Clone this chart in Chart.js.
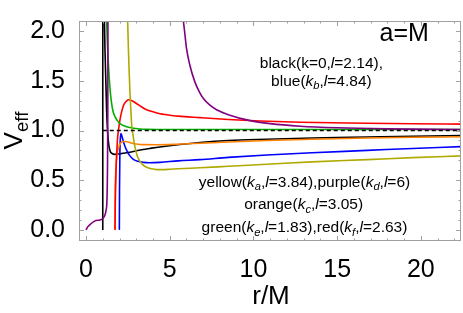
<!DOCTYPE html>
<html>
<head>
<meta charset="utf-8">
<script src="https://cdn.jsdelivr.net/npm/chart.js@4"></script>
<style>
    html, body { margin: 0; padding: 0; background: #fff; }
    #wrap { width: 463px; height: 313px; }
</style>
</head>
<body>
<div id="wrap"><canvas id="veffChart" width="463" height="313"></canvas></div>
<script>
// ============================================
// DATA
// ============================================
const xTicks = [0, 5, 10, 15, 20];
const yTicks = [0, 0.5, 1.0, 1.5, 2.0];

// black (k=0, l=2.14)
const blackR = [1.0, 1.0, 1.04, 1.08, 1.13, 1.23, 1.33, 1.43, 1.55, 1.73, 2.0, 2.43, 3.0, 3.42, 3.8, 4.4, 5.6, 6.8, 8.5, 10.8, 13.5, 16.8, 19.5, 22.4];
const blackV = [0, 2.5, null, 2.3, 1.83, 1.2, 0.9, 0.80, 0.77, 0.76, 0.765, 0.776, 0.795, 0.81, 0.82, 0.835, 0.86, 0.88, 0.90, 0.913, 0.925, 0.935, 0.943, 0.95];

// blue (k_b, l=4.84)
const blueR = [1.99, 2.0, 2.02, 2.05, 2.09, 2.15, 2.23, 2.33, 2.43, 2.6, 2.83, 3.1, 3.42, 3.8, 4.42, 5.5, 6.8, 8.5, 10.8, 13.5, 16.8, 19.5, 22.4];
const blueV = [0, 0.4, 0.75, 0.92, 0.97, 0.94, 0.89, 0.84, 0.80, 0.75, 0.71, 0.69, 0.68, 0.676, 0.68, 0.695, 0.707, 0.73, 0.754, 0.777, 0.80, 0.82, 0.838];

// yellow (k_a, l=3.84)
const yellowR = [2.47, 2.53, 2.58, 2.63, 2.68, 2.73, 2.83, 2.93, 3.05, 3.22, 3.4, 3.62, 3.9, 4.22, 4.6, 5.0, 5.5, 6.8, 8.5, 10.8, 13.5, 16.8, 19.5, 22.4];
const yellowV = [2.2, 1.83, 1.58, 1.36, 1.2, 1.05, 0.93, 0.83, 0.75, 0.69, 0.655, 0.63, 0.615, 0.607, 0.607, 0.61, 0.615, 0.625, 0.64, 0.66, 0.685, 0.707, 0.727, 0.745];

// purple (k_d, l=6)
const purpleR = [0, 0.1, 0.25, 0.44, 0.6, 0.84, 1.0, 1.13, 1.2, 1.25, 1.28, 1.3, 1.31, 3.0, 5.75, 5.9, 6.0, 6.2, 6.5, 6.8, 7.0, 7.4, 7.8, 8.5, 9.8, 11, 12.8, 15, 18, 22.4];
const purpleV = [0, 0.03, 0.055, 0.08, 0.095, 0.10, 0.115, 0.15, 0.2, 0.3, 0.6, 1.2, 2.3, null, 2.2, 1.98, 1.83, 1.66, 1.49, 1.38, 1.325, 1.255, 1.21, 1.16, 1.10, 1.07, 1.044, 1.028, 1.017, 1.01];

// orange (k_c, l=3.05)
const orangeR = [1.73, 1.74, 1.78, 1.87, 1.95, 2.05, 2.2, 2.35, 2.6, 3.0, 3.4, 4.2, 5.4, 6.8, 8.5, 10.8, 13.5, 16.8, 19.5, 22.4];
const orangeV = [0, 0.3, 0.6, 0.77, 0.83, 0.87, 0.89, 0.89, 0.88, 0.865, 0.858, 0.857, 0.862, 0.872, 0.885, 0.90, 0.913, 0.925, 0.932, 0.937];

// green (k_e, l=1.83)
const greenR = [1.22, 1.25, 1.29, 1.34, 1.39, 1.45, 1.53, 1.62, 1.73, 1.87, 2.03, 2.3, 2.63, 3.1, 3.62, 5, 8, 12, 16, 22.4];
const greenV = [2.2, 2.0, 1.83, 1.66, 1.52, 1.39, 1.27, 1.19, 1.14, 1.10, 1.07, 1.045, 1.03, 1.018, 1.012, 1.01, 1.01, 1.01, 1.01, 1.01];

// red (k_f, l=2.63)
const redR = [1.73, 1.75, 1.79, 1.87, 1.95, 2.03, 2.13, 2.23, 2.38, 2.53, 2.75, 3.03, 3.3, 3.62, 4.0, 4.42, 4.8, 5.5, 6.8, 8.5, 10.4, 12.8, 16.8, 19.5, 22.4];
const redV = [0, 0.3, 0.58, 0.89, 1.02, 1.11, 1.19, 1.25, 1.29, 1.31, 1.30, 1.27, 1.24, 1.21, 1.19, 1.17, 1.16, 1.145, 1.13, 1.112, 1.096, 1.083, 1.074, 1.069, 1.065];

// dashed asymptote V = 1
const dashR = [1.0, 22.4];
const dashV = [1, 1];

// ============================================
// HELPERS
// ============================================
const FONT = '"Liberation Sans", Arial, sans-serif';

function toPoints(r, v) {
    return r.map((x, i) => ({ x: x, y: v[i] }));
}

function curve(r, v, color, extra = {}) {
    return Object.assign({
        data: toPoints(r, v),
        borderColor: color,
        borderWidth: 1.6,
        pointRadius: 0,
        fill: false,
        cubicInterpolationMode: 'monotone',
        spanGaps: false
    }, extra);
}

// draws a line of text made of pieces: plain, italic, subscript
function richText(ctx, parts, cx, baseline, size) {
    const pieceFont = p => (p.i ? 'italic ' : '') + (p.sub ? size * 0.72 : size) + 'px ' + FONT;
    let total = 0;
    parts.forEach(p => {
        ctx.font = pieceFont(p);
        total += ctx.measureText(p.t).width;
    });
    let x = cx - total / 2;
    parts.forEach(p => {
        ctx.font = pieceFont(p);
        ctx.fillText(p.t, x, baseline + (p.sub ? size * 0.22 : 0));
        x += ctx.measureText(p.t).width;
    });
}

const notes = [
    { x: 14.06, y: 1.626, size: 15.5, parts: [{ t: 'black(k=0,' }, { t: 'l', i: true }, { t: '=2.14),' }] },
    { x: 14.06, y: 1.449, size: 15.5, parts: [{ t: 'blue(' }, { t: 'k', i: true }, { t: 'b', i: true, sub: true }, { t: ',' }, { t: 'l', i: true }, { t: '=4.84)' }] },
    { x: 13.05, y: 0.433, size: 15.5, parts: [{ t: 'yellow(' }, { t: 'k', i: true }, { t: 'a', i: true, sub: true }, { t: ',' }, { t: 'l', i: true }, { t: '=3.84),purple(' }, { t: 'k', i: true }, { t: 'd', i: true, sub: true }, { t: ',' }, { t: 'l', i: true }, { t: '=6)' }] },
    { x: 13.0, y: 0.208, size: 15.5, parts: [{ t: 'orange(' }, { t: 'k', i: true }, { t: 'c', i: true, sub: true }, { t: ',' }, { t: 'l', i: true }, { t: '=3.05)' }] },
    { x: 13.05, y: -0.025, size: 15.5, parts: [{ t: 'green(' }, { t: 'k', i: true }, { t: 'e', i: true, sub: true }, { t: ',' }, { t: 'l', i: true }, { t: '=1.83),red(' }, { t: 'k', i: true }, { t: 'f', i: true, sub: true }, { t: ',' }, { t: 'l', i: true }, { t: '=2.63)' }] },
    { x: 19.01, y: 1.897, size: 25, parts: [{ t: 'a=M' }] }
];

// frame, inward ticks on all four sides, labels
const framePlugin = {
    id: 'frame',
    afterDraw(chart) {
        const { ctx, chartArea: a, scales } = chart;
        const xs = scales.x, ys = scales.y;
        ctx.save();
        ctx.strokeStyle = '#a0a0a0';
        ctx.lineWidth = 1;
        ctx.strokeRect(a.left + 0.5, a.top + 0.5, a.right - a.left - 1, a.bottom - a.top - 1);

        ctx.beginPath();
        for (let v = 0; v <= 22; v += 1) {
            const len = v % 5 === 0 ? 5 : 2.5;
            const px = Math.round(xs.getPixelForValue(v)) + 0.5;
            ctx.moveTo(px, a.bottom); ctx.lineTo(px, a.bottom - len);
            ctx.moveTo(px, a.top); ctx.lineTo(px, a.top + len);
        }
        for (let k = -1; k <= 21; k++) {
            const v = k / 10;
            const len = k % 5 === 0 ? 5 : 2.5;
            const py = Math.round(ys.getPixelForValue(v)) + 0.5;
            if (py < a.top + 1 || py > a.bottom - 1) continue;
            ctx.moveTo(a.left, py); ctx.lineTo(a.left + len, py);
            ctx.moveTo(a.right, py); ctx.lineTo(a.right - len, py);
        }
        ctx.stroke();

        ctx.fillStyle = '#000';
        ctx.textBaseline = 'alphabetic';
        notes.forEach(n => {
            richText(ctx, n.parts, xs.getPixelForValue(n.x), ys.getPixelForValue(n.y), n.size);
        });

        // axis titles
        ctx.font = '26px ' + FONT;
        ctx.textAlign = 'center';
        ctx.fillText('r/M', (a.left + a.right) / 2 + 1, 304);
        ctx.textAlign = 'left';

        ctx.translate(22, ys.getPixelForValue(1.0));
        ctx.rotate(-Math.PI / 2);
        richText(ctx, [{ t: 'V' }, { t: 'eff', sub: true }], 0, 0, 26);
        ctx.restore();
    }
};

// ============================================
// CHART
// ============================================
document.addEventListener('DOMContentLoaded', () => {
    const ctx = document.getElementById('veffChart');
    new Chart(ctx, {
        type: 'line',
        data: {
            datasets: [
                curve(dashR, dashV, '#000', { borderWidth: 1.5, borderDash: [4, 3], cubicInterpolationMode: 'default' }),
                curve(purpleR, purpleV, '#800080'),
                curve(yellowR, yellowV, '#b0aa00'),
                curve(greenR, greenV, '#00b000'),
                curve(redR, redV, '#ff0000'),
                curve(orangeR, orangeV, '#ff8000'),
                curve(blueR, blueV, '#0000ff'),
                curve(blackR, blackV, '#000000')
            ]
        },
        options: {
            responsive: false,
            animation: false,
            devicePixelRatio: 1,
            layout: { padding: { top: 4, right: 2, left: 0, bottom: 0 } },
            plugins: {
                legend: { display: false },
                tooltip: { enabled: false }
            },
            scales: {
                x: {
                    type: 'linear',
                    min: -0.42,
                    max: 22.4,
                    grid: { display: false },
                    border: { display: false },
                    afterBuildTicks: s => { s.ticks = xTicks.map(v => ({ value: v })); },
                    afterFit: s => { s.height = 72; },
                    ticks: {
                        color: '#000',
                        padding: 6,
                        maxRotation: 0,
                        font: { family: FONT, size: 25 },
                        callback: v => String(v)
                    }
                },
                y: {
                    type: 'linear',
                    min: -0.112,
                    max: 2.103,
                    grid: { display: false },
                    border: { display: false },
                    afterBuildTicks: s => { s.ticks = yTicks.map(v => ({ value: v })); },
                    afterFit: s => { s.width = 79; },
                    ticks: {
                        color: '#000',
                        padding: 6,
                        font: { family: FONT, size: 25 },
                        callback: v => Number(v).toFixed(1)
                    }
                }
            }
        },
        plugins: [framePlugin]
    });
});
</script>
</body>
</html>
